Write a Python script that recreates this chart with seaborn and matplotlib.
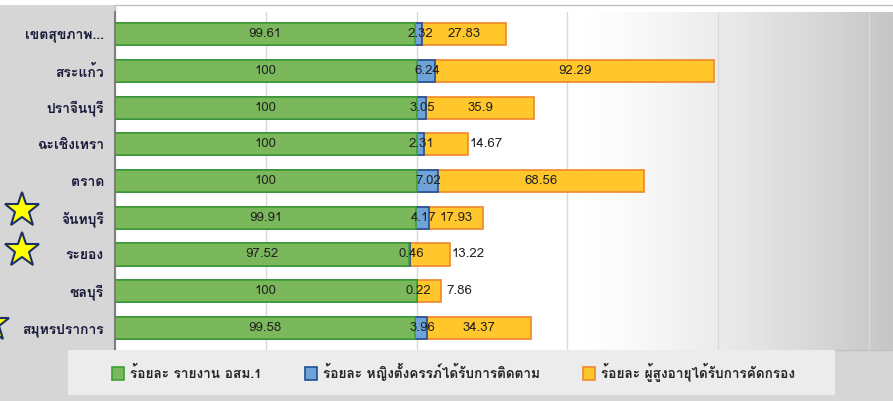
import numpy as np
import pandas as pd
import matplotlib
matplotlib.use("Agg")
import matplotlib.pyplot as plt
import seaborn as sns
from matplotlib import font_manager, ft2font
from matplotlib.patches import Patch, Rectangle

# ---------------- data ----------------
provinces = ["เขตสุขภาพ...", "สระแก้ว", "ปราจีนบุรี", "ฉะเชิงเทรา", "ตราด",
             "จันทบุรี", "ระยอง", "ชลบุรี", "สมุทรปราการ"]
report_pct = [99.61, 100, 100, 100, 100, 99.91, 97.52, 100, 99.58]
pregnant_pct = [2.32, 6.24, 3.05, 2.31, 7.02, 4.17, 0.46, 0.22, 3.96]
elderly_pct = [27.83, 92.29, 35.9, 14.67, 68.56, 17.93, 13.22, 7.86, 34.37]
series_names = ["ร้อยละ รายงาน อสม.1",
                "ร้อยละ หญิงตั้งครรภ์ได้รับการติดตาม",
                "ร้อยละ ผู้สูงอายุได้รับการคัดกรอง"]
starred = ["จันทบุรี", "ระยอง", "สมุทรปราการ"]

# ---------------- font with Thai glyphs ----------------
thai_fonts = []
for f in font_manager.fontManager.ttflist:
    try:
        cmap = ft2font.FT2Font(f.fname).get_charmap()
    except Exception:
        continue
    if 0x0E01 in cmap and f.name not in thai_fonts:
        thai_fonts.append(f.name)

sns.set_style("white")
plt.rcParams['font.family'] = thai_fonts + ['DejaVu Sans']

df = pd.DataFrame({
    'province': provinces,
    'report': report_pct,
    'pregnant': pregnant_pct,
    'elderly': elderly_pct,
})
df['cum1'] = df['report']
df['cum2'] = df['cum1'] + df['pregnant']
df['cum3'] = df['cum2'] + df['elderly']

fills = ['#7bb75b', '#6fa3d8', '#ffc72c']
edges = ['#3f9e35', '#1f4e9a', '#f0862a']

fig = plt.figure(figsize=(8.93, 4.01), dpi=100, facecolor='#d6d6d6')

# white strip at the top, plot-area background and legend box
fig.add_artist(Rectangle((0, 1 - 5 / 401), 1, 5 / 401, transform=fig.transFigure,
                         facecolor='white', edgecolor='none', zorder=0))
fig.add_artist(Rectangle((115 / 893, 51 / 401), 1, 345 / 401, transform=fig.transFigure,
                         facecolor='white', edgecolor='#c0c0c0', linewidth=1, zorder=0))

ax = fig.add_axes([115 / 893, 51 / 401, 778 / 893, 338 / 401])
ax.set_facecolor('none')

# horizontal grey gradient on the right side
grad = np.linspace(0, 1, 256)
grad = np.clip((grad - 0.6) / 0.4, 0, 1) ** 1.3
ax.imshow(grad[np.newaxis, :], extent=[0, 258, 8.6, -0.6], aspect='auto',
          cmap=matplotlib.colors.LinearSegmentedColormap.from_list('g', ['#ffffff', '#c6c6c6']),
          zorder=0)

for col, fc, ec in zip(['cum3', 'cum2', 'cum1'], fills[::-1], edges[::-1]):
    sns.barplot(data=df, x=col, y='province', orient='h', color=fc, edgecolor=ec,
                linewidth=1.2, width=0.6, saturation=1, ax=ax, zorder=3)

ax.set_xlim(0, 258)
ax.set_ylim(8.6, -0.6)
ax.set_xticks([0, 50, 100, 150, 200, 250])
ax.xaxis.grid(True, color='#d9d9d9', linewidth=1, zorder=1)
ax.tick_params(axis='x', length=0, labelbottom=False)
ax.tick_params(axis='y', length=0, pad=8, labelsize=10)
for lbl in ax.get_yticklabels():
    lbl.set_fontweight('bold')
    lbl.set_color('#1a1a3a')
ax.set_xlabel('')
ax.set_ylabel('')
for s in ['top', 'right', 'bottom']:
    ax.spines[s].set_visible(False)
ax.spines['left'].set_color('#7f7f7f')
ax.spines['left'].set_linewidth(1.5)
ax.spines['left'].set_bounds(-0.6, 8.6)

# data labels
lab_kw = dict(fontsize=9.5, color='#222222', va='center', ha='center', zorder=5)
for i, row in df.iterrows():
    ax.text(row['cum1'] / 2, i, f"{row['report']:g}", **lab_kw)
    ax.text(row['cum1'] + row['pregnant'] / 2 + 0.5, i, f"{row['pregnant']:g}", **lab_kw)
    if row['elderly'] < 16:
        ax.text(row['cum3'] + 6, i, f"{row['elderly']:g}", **lab_kw)
    else:
        ax.text(row['cum2'] + row['elderly'] / 2, i, f"{row['elderly']:g}", **lab_kw)

# stars next to provinces
star_x = {"จันทบุรี": 22, "ระยอง": 22, "สมุทรปราการ": -8}
star_lift = {"จันทบุรี": 8, "ระยอง": 4, "สมุทรปราการ": 4}
for name in starred:
    i = provinces.index(name)
    yfig = ax.transData.transform((0, i))[1] / fig.dpi / 4.01
    fig.add_artist(plt.Line2D([star_x[name] / 893], [yfig + star_lift[name] / 401], marker='*',
                              markersize=26, markerfacecolor='#ffff00', markeredgecolor='#1f3060',
                              markeredgewidth=1.5, transform=fig.transFigure, zorder=6))

# legend
fig.add_artist(Rectangle((68 / 893, 6 / 401), 767 / 893, 45 / 401, transform=fig.transFigure,
                         facecolor='#ececec', edgecolor='none', zorder=9))
handles = [Patch(facecolor=fc, edgecolor=ec, linewidth=1.2) for fc, ec in zip(fills, edges)]
leg = fig.legend(handles, series_names, loc='center', bbox_to_anchor=(0.508, 0.072), ncol=3,
                 frameon=False, columnspacing=3.2, handlelength=0.85,
                 handleheight=1.1, handletextpad=0.45,
                 prop={'weight': 'bold', 'size': 9.8})
leg.set_zorder(10)

fig.savefig("out.png", dpi=100, facecolor=fig.get_facecolor())
